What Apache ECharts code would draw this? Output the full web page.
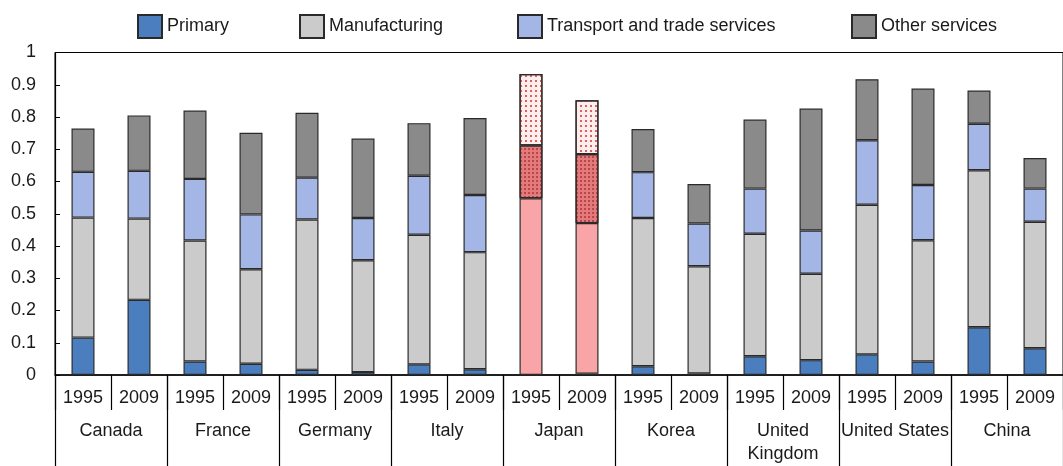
<!DOCTYPE html>
<html>
<head>
<meta charset="utf-8">
<script src="https://cdn.jsdelivr.net/npm/echarts@6/dist/echarts.min.js"></script>
<style>
html,body{margin:0;padding:0;background:#fff;}
#chart{width:1063px;height:466px;}
</style>
</head>
<body>
<div id="chart"></div>
<script>
const countries = ['Canada','France','Germany','Italy','Japan','Korea','United\nKingdom','United States','China'];
const years = ['1995','2009'];
const seriesNames = ['Primary','Manufacturing','Transport and trade services','Other services'];
const primary       = [0.116,0.233, 0.042,0.035, 0.016,0.009, 0.033,0.018, 0.000,0.004, 0.027,0.005, 0.058,0.046, 0.064,0.042, 0.148,0.083];
const manufacturing = [0.372,0.252, 0.375,0.293, 0.466,0.347, 0.402,0.363, 0.548,0.467, 0.460,0.332, 0.380,0.268, 0.464,0.376, 0.487,0.392];
const transport     = [0.142,0.148, 0.191,0.170, 0.130,0.131, 0.183,0.177, 0.164,0.214, 0.142,0.133, 0.140,0.134, 0.200,0.171, 0.144,0.103];
const other         = [0.134,0.172, 0.212,0.253, 0.201,0.246, 0.163,0.239, 0.221,0.167, 0.134,0.122, 0.214,0.378, 0.189,0.299, 0.103,0.095];
const yTicks = ['0','0.1','0.2','0.3','0.4','0.5','0.6','0.7','0.8','0.9','1'];

const categories = [];
const yearLabels = [];
countries.forEach(c => years.forEach(y => { categories.push(c + ' ' + y); yearLabels.push(y); }));
const highlightCountry = 'Japan';

const colors = ['#4a7ebf', '#cbcbcb', '#a4b6e6', '#8a8a8a'];
const japanStyles = [
  { color: '#f9a5a7' },
  { color: '#f9a5a7' },
  { color: '#e57a7c', decal: { symbol: 'rect', symbolSize: 1, dashArrayX: [1.5, 1.5], dashArrayY: [1.5, 1.5], color: 'rgba(150,30,30,0.55)' } },
  { color: '#fdeeee', decal: { symbol: 'rect', symbolSize: 1, dashArrayX: [1.5, 2.5], dashArrayY: [1.5, 2.5], color: 'rgba(215,70,70,0.85)' } }
];
const seriesData = [primary, manufacturing, transport, other];

const textColor = '#1a1a1a';
const font = 'Liberation Sans, Arial, sans-serif';

const series = seriesNames.map((name, si) => ({
  name: name,
  type: 'bar',
  stack: 'total',
  barWidth: 23,
  xAxisIndex: 0,
  itemStyle: { color: colors[si], borderColor: '#2a2a2a', borderWidth: 1.2 },
  emphasis: { disabled: true },
  data: seriesData[si].map((v, i) => {
    if (categories[i].startsWith(highlightCountry)) {
      return { value: v, itemStyle: Object.assign({ borderColor: '#2a2a2a', borderWidth: 1.2 }, japanStyles[si]) };
    }
    return v;
  })
}));

const legendLefts = [137, 299, 517, 851];
const legends = seriesNames.map((n, i) => ({
  data: [n],
  left: legendLefts[i],
  top: 14,
  padding: 0,
  icon: 'rect',
  itemWidth: 24,
  itemHeight: 23,
  itemGap: 0,
  selectedMode: false,
  textStyle: { fontSize: 18, color: textColor, fontFamily: font }
}));

const chart = echarts.init(document.getElementById('chart'), null, { renderer: 'canvas' });
chart.setOption({
  animation: false,
  backgroundColor: '#fff',
  legend: legends,
  grid: { left: 55, top: 52.5, width: 1017, height: 325, show: true, borderColor: '#000', borderWidth: 1, backgroundColor: 'transparent' },
  xAxis: [
    {
      type: 'category',
      data: categories,
      position: 'bottom',
      axisLine: { show: true, lineStyle: { color: '#000', width: 1.5 } },
      axisTick: { show: true, interval: 0, length: 35, lineStyle: { color: '#000', width: 1.2 } },
      axisLabel: { interval: 0, margin: 14, fontSize: 18, color: textColor, fontFamily: font, formatter: (v, i) => yearLabels[i] }
    },
    {
      type: 'category',
      data: countries,
      position: 'bottom',
      gridIndex: 0,
      axisLine: { show: false },
      axisTick: { show: true, interval: 0, length: 95, lineStyle: { color: '#000', width: 1.2 } },
      axisLabel: { interval: 0, margin: 45, fontSize: 18, lineHeight: 23, color: textColor, fontFamily: font }
    }
  ],
  yAxis: {
    type: 'value',
    min: 0,
    max: 1,
    interval: 0.1,
    axisLine: { show: true, lineStyle: { color: '#000', width: 1.2 } },
    axisTick: { show: true, inside: true, length: 5, lineStyle: { color: '#000' } },
    splitLine: { show: false },
    axisLabel: { margin: 19, fontSize: 18, color: textColor, fontFamily: font, formatter: (v) => yTicks[Math.round(v * 10)] }
  },
  series: series
});
</script>
</body>
</html>
